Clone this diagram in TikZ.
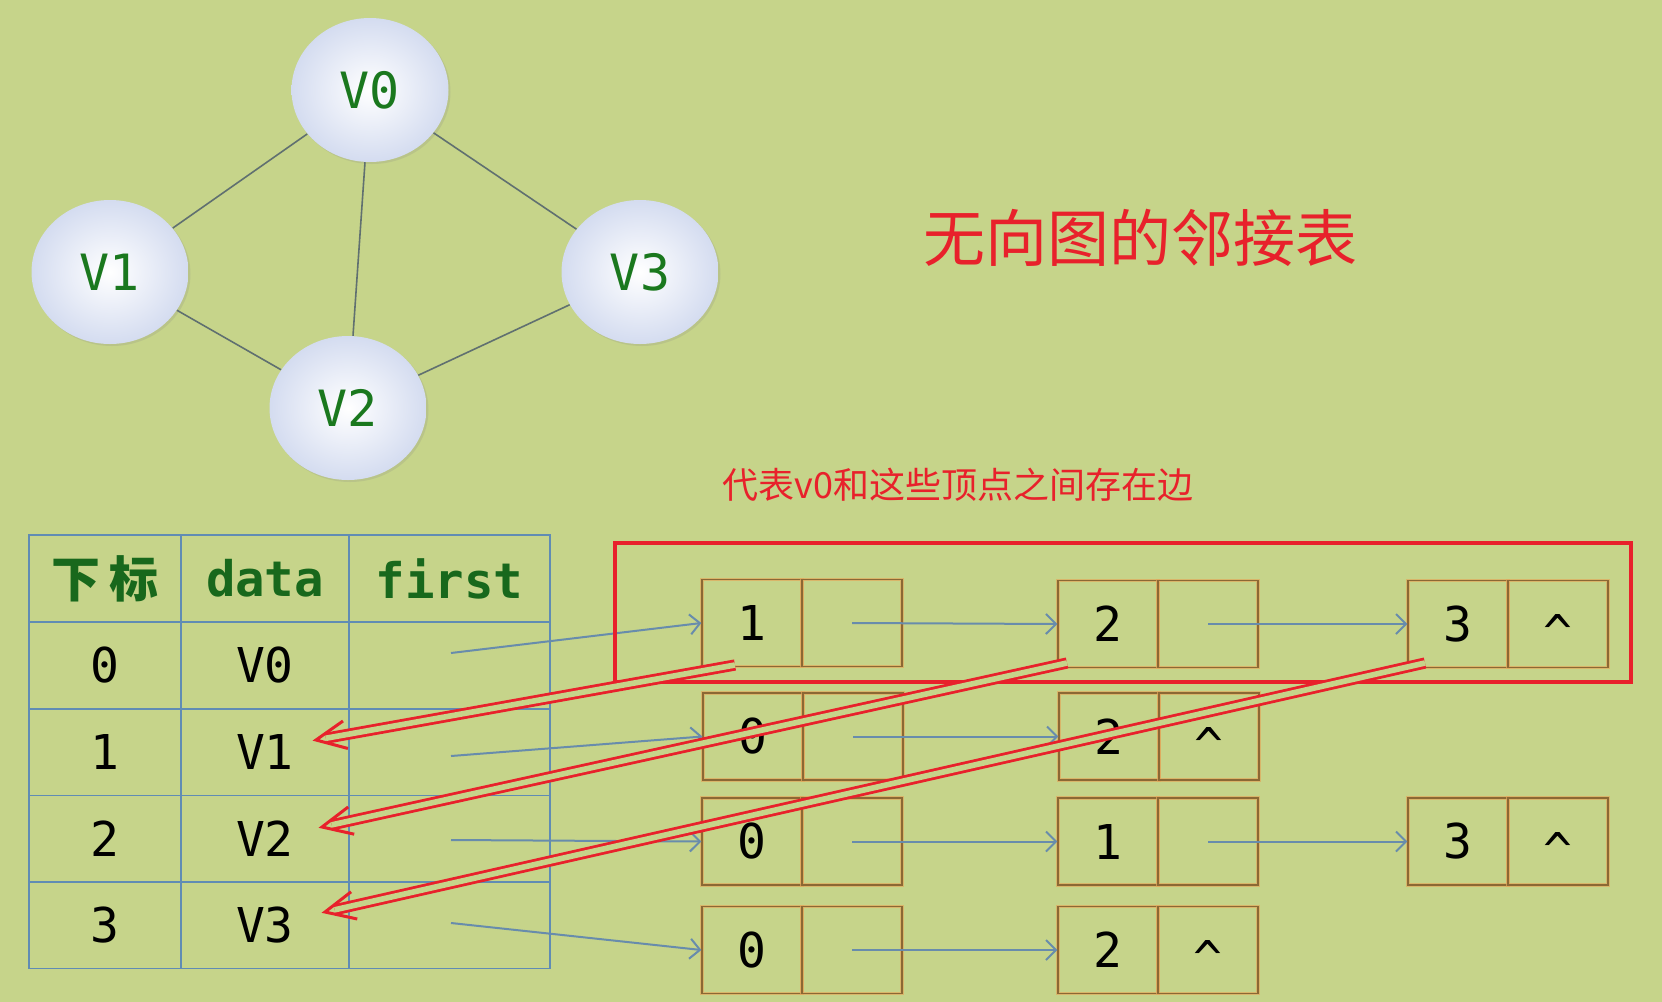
\documentclass[tikz,border=0pt]{standalone}
\usepackage{fontspec}
\setmonofont{DejaVu Sans Mono}
\newfontfamily\cjk{Noto Sans CJK SC}
\usetikzlibrary{shapes.geometric,arrows.meta,shadows,calc}
\definecolor{bg}{RGB}{198,212,138}
\definecolor{redc}{RGB}{232,33,43}
\definecolor{tabcol}{RGB}{96,140,180}
\definecolor{boxcol}{RGB}{140,104,52}
\definecolor{boxglow}{RGB}{226,168,92}
\definecolor{arrcol}{RGB}{104,140,172}
\definecolor{vgreen}{RGB}{26,120,30}
\definecolor{hgreen}{RGB}{24,104,28}
\definecolor{lav}{RGB}{212,220,240}
\definecolor{edgecol}{RGB}{96,112,112}
\begin{document}
\begin{tikzpicture}[x=0.5pt,y=-0.5pt,
  every node/.style={inner sep=0pt},
  vert/.style={ellipse, minimum width=78.5pt, minimum height=72pt,
    inner color=white, outer color=lav,
    drop shadow={opacity=0.18, shadow xshift=1pt, shadow yshift=-1pt},
    font=\ttfamily\fontsize{25}{25}\selectfont, text=vgreen},
  gedge/.style={draw=edgecol, line width=0.8pt},
  tcell/.style={draw=tabcol, line width=0.8pt, minimum height=43.3pt,
    font=\ttfamily\fontsize{24}{24}\selectfont},
  thead/.style={tcell, text=hgreen, font=\ttfamily\bfseries\fontsize{24.5}{24.5}\selectfont},
  lcell/.style={draw=boxcol, line width=0.6pt, minimum width=50pt, minimum height=43.5pt,
    preaction={draw=boxglow, draw opacity=0.7, line width=1.8pt},
    font=\ttfamily\fontsize{24}{24}\selectfont},
  barrow/.style={draw=arrcol, line width=1pt, -{Straight Barb[length=5pt, width=10pt]}},
  redshaft/.style={draw=redc, line width=1.4pt, double=bg, double distance=2.8pt, shorten >=5pt},
  redhead/.style={draw=redc, line width=1.5pt, line join=miter},
]
\fill[bg] (0,0) rectangle (1662,1002);
\useasboundingbox (0,0) rectangle (1662,1002);

% graph
\node[vert] (v0) at (370,90) {V0};
\node[vert] (v1) at (110,272) {V1};
\node[vert] (v3) at (640,272) {V3};
\node[vert] (v2) at (348,408) {V2};
\draw[gedge] (v0) -- (v1);
\draw[gedge] (v0) -- (v2);
\draw[gedge] (v0) -- (v3);
\draw[gedge] (v1) -- (v2);
\draw[gedge] (v2) -- (v3);

% titles
\node[text=redc, font=\cjk\fontsize{31}{31}\selectfont] (title) at (1140,238) {无向图的邻接表};
\node[text=redc, font=\cjk\fontsize{18}{18}\selectfont] (sub) at (958,485) {代表v0和这些顶点之间存在边};

% table
\node[thead, minimum width=76pt] (h1) at (105,578.5) {\cjk\bfseries 下\hspace{5pt}标};
\node[thead, minimum width=84pt] (h2) at (265,578.5) {data};
\node[thead, minimum width=100.5pt] (h3) at (449.5,578.5) {first};
\foreach \i/\y in {0/665.5,1/752.1,2/838.7,3/925.3}{
  \node[tcell, minimum width=76pt] (i\i) at (105,\y) {\i};
  \node[tcell, minimum width=84pt] (d\i) at (265,\y) {V\i};
  \node[tcell, minimum width=100.5pt] (f\i) at (449.5,\y) {};
}

% list cells
\node[lcell] (r0a) at (752,623) {1};
\node[lcell] (r0ap) at (852,623) {};
\node[lcell] (r0b) at (1108,624) {2};
\node[lcell] (r0bp) at (1208,624) {};
\node[lcell] (r0c) at (1458,624) {3};
\node[lcell] (r0cp) at (1558,624) {};
\node[lcell] (r1a) at (753,736.5) {0};
\node[lcell] (r1ap) at (853,736.5) {};
\node[lcell] (r1b) at (1109,736.5) {2};
\node[lcell] (r1bp) at (1209,736.5) {};
\node[lcell] (r2a) at (752,841.5) {0};
\node[lcell] (r2ap) at (852,841.5) {};
\node[lcell] (r2b) at (1108,841.5) {1};
\node[lcell] (r2bp) at (1208,841.5) {};
\node[lcell] (r2c) at (1458,841.5) {3};
\node[lcell] (r2cp) at (1558,841.5) {};
\node[lcell] (r3a) at (752,950) {0};
\node[lcell] (r3ap) at (852,950) {};
\node[lcell] (r3b) at (1108,950) {2};
\node[lcell] (r3bp) at (1208,950) {};

\foreach \n in {r0cp,r1bp,r2cp,r3bp}{
  \node[font=\ttfamily\fontsize{24}{24}\selectfont, anchor=center] at ([yshift=-4pt]\n.center) {\textasciicircum};
}

% blue arrows from table
\coordinate (s0) at (451,653);
\coordinate (s1) at (451,756);
\coordinate (s2) at (451,840);
\coordinate (s3) at (451,923);
\draw[barrow] (s0) -- (r0a.west);
\draw[barrow] (s1) -- (r1a.west);
\draw[barrow] (s2) -- (r2a.west);
\draw[barrow] (s3) -- (r3a.west);
% blue arrows between boxes
\draw[barrow] (r0ap.center) -- (r0b.west);
\draw[barrow] (r0bp.center) -- (r0c.west);
\draw[barrow] (r1ap.center) -- (r1b.west);
\draw[barrow] (r2ap.center) -- (r2b.west);
\draw[barrow] (r2bp.center) -- (r2c.west);
\draw[barrow] (r3ap.center) -- (r3b.west);

% red highlight
\draw[redc, line width=2.2pt] (615,543) rectangle (1631,682);

% red arrows
\coordinate (a0) at (735,665);
\coordinate (a1) at (1067,663);
\coordinate (a2) at (1425,663);
\coordinate (e1) at (316,740);
\coordinate (e2) at (322,827);
\coordinate (e3) at (325,912);
\foreach \s/\e in {a0/e1,a1/e2,a2/e3}{
  \draw[redshaft] (\s) -- (\e);
  \draw[redhead] ($(\e)!16.5pt!25:(\s)$) -- (\e) -- ($(\e)!16.5pt!-25:(\s)$);
}
\end{tikzpicture}
\end{document}
